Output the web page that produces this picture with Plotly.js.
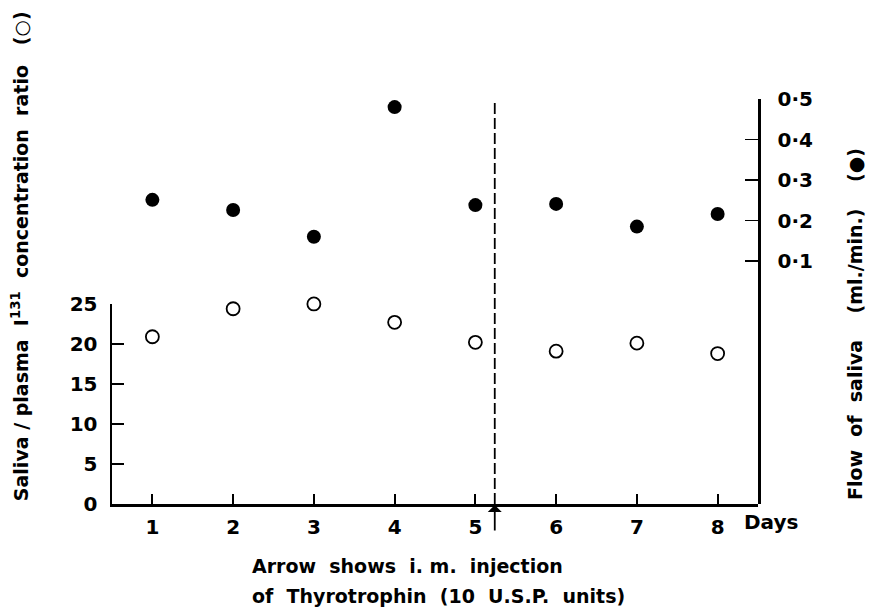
<!DOCTYPE html>
<html>
<head>
<meta charset="utf-8">
<script src="https://cdn.plot.ly/plotly-3.0.1.min.js"></script>
<style>html,body{margin:0;padding:0;background:#fff}#chart{width:873px;height:612px}</style>
</head>
<body>
<div id="chart"></div>
<script>
const days = [1, 2, 3, 4, 5, 6, 7, 8];
const concRatio = [20.9, 24.4, 25.0, 22.7, 20.2, 19.1, 20.1, 18.8];
const salivaFlow = [0.251, 0.226, 0.160, 0.480, 0.238, 0.241, 0.185, 0.216];
const leftTicks = [0, 5, 10, 15, 20, 25];
const rightTicks = [0.1, 0.2, 0.3, 0.4, 0.5];
const rightTickText = ["0·1", "0·2", "0·3", "0·4", "0·5"];
const injectionDay = 5.24;

const FAM = "'DejaVu Sans', sans-serif";
const TICKFONT = {family: FAM, size: 20, color: "#000", weight: "bold"};
const FONT = {family: FAM, size: 19, color: "#000", weight: "bold"};

const traces = [
  {x: days, y: concRatio, xaxis: "x", yaxis: "y", mode: "markers", type: "scatter", cliponaxis: false,
   marker: {symbol: "circle-open", size: 13, color: "#000", line: {width: 1.8, color: "#000"}}},
  {x: days, y: salivaFlow, xaxis: "x", yaxis: "y2", mode: "markers", type: "scatter", cliponaxis: false,
   marker: {symbol: "circle", size: 14, color: "#000"}}
];

const layout = {
  width: 873, height: 612,
  margin: {l: 112, r: 115, t: 99, b: 108},
  paper_bgcolor: "#fff", plot_bgcolor: "rgba(0,0,0,0)",
  showlegend: false,
  font: FONT,
  xaxis: {
    range: [0.5, 8.5], tickvals: days, ticks: "inside", ticklen: 10, tickwidth: 1.8,
    tickcolor: "#000", showline: true, linewidth: 2.5, linecolor: "#000",
    showgrid: false, zeroline: false, anchor: "y", tickfont: TICKFONT, ticklabelstandoff: 3
  },
  yaxis: {
    domain: [0, 0.494], range: [0, 25], tickvals: leftTicks, ticks: "inside", ticklen: 12,
    tickwidth: 1.8, tickcolor: "#000", showline: true, linewidth: 2.5, linecolor: "#000",
    showgrid: false, zeroline: false, anchor: "x", tickfont: TICKFONT, ticklabelstandoff: 8
  },
  yaxis2: {
    domain: [0, 1], range: [-0.5, 0.5], tickvals: rightTicks, ticktext: rightTickText,
    ticks: "inside", ticklen: 13, tickwidth: 1.8, tickcolor: "#000", side: "right",
    showline: true, linewidth: 2.5, linecolor: "#000", showgrid: false, zeroline: false,
    anchor: "x", tickfont: TICKFONT, ticklabelstandoff: 13
  },
  shapes: [
    {type: "line", xref: "x", yref: "y2", x0: injectionDay, x1: injectionDay, y0: -0.5, y1: 0.5,
     line: {color: "#000", width: 1.8, dash: "11px,4px"}}
  ],
  annotations: [
    {xref: "x", yref: "y", x: injectionDay, y: 0, ax: 0, ay: 28, text: "", showarrow: true,
     arrowhead: 1, arrowsize: 1.3, arrowwidth: 1.8, arrowcolor: "#000", standoff: 1},
    {xref: "paper", yref: "paper", x: 0.975, y: -0.044, xanchor: "left", yanchor: "middle",
     text: "Days", showarrow: false, font: TICKFONT},
    {xref: "paper", yref: "paper", x: 0.2136, y: -0.153, xanchor: "left", yanchor: "middle",
     text: "Arrow  shows  i. m.  injection", showarrow: false, font: FONT},
    {xref: "paper", yref: "paper", x: 0.2136, y: -0.227, xanchor: "left", yanchor: "middle",
     text: "of  Thyrotrophin  (10  U.S.P.  units)", showarrow: false, font: FONT},
    {xref: "paper", yref: "paper", x: -0.1424, y: 0.612, xanchor: "center", yanchor: "middle",
     textangle: -90, text: "Saliva / plasma  I<sup>131</sup>  concentration  ratio   (○)",
     showarrow: false, font: FONT},
    {xref: "paper", yref: "paper", x: 1.150, y: 0.444, xanchor: "center", yanchor: "middle",
     textangle: -90, text: "Flow  of  saliva    (ml./min.)    (●)", showarrow: false, font: FONT}
  ]
};

Plotly.newPlot("chart", traces, layout, {displayModeBar: false, staticPlot: true});
</script>
</body>
</html>
